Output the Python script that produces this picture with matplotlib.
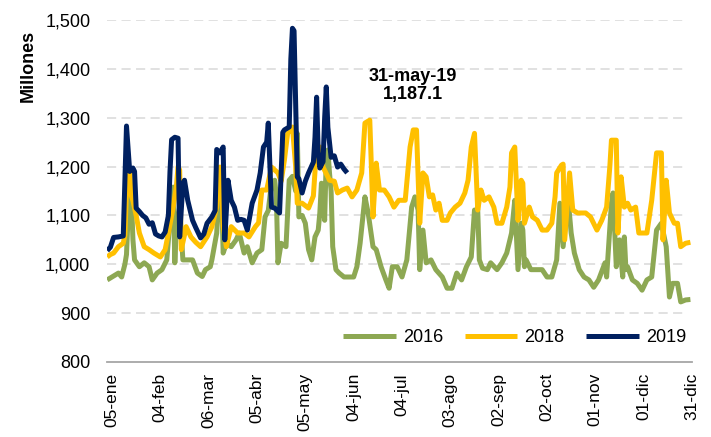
"""Daily series 2016 / 2018 / 2019 on a common day-of-year axis."""

from __future__ import annotations

import matplotlib

matplotlib.use("Agg")
import matplotlib.pyplot as plt

# --- data (day of year, millones) ------------------------------------------
days_2016 = [2, 5, 9, 11, 13, 14, 15, 16, 17, 18, 19, 22, 25, 28, 30, 33, 36, 39, 41, 43,
             44, 45, 47, 49, 52, 55, 58, 61, 63, 66, 67, 70, 72, 73, 74, 76, 79, 82, 84, 87,
             89, 92, 95, 98, 100, 102, 104, 106, 107, 108, 110, 113, 115, 117, 119, 120, 121,
             123, 125, 127, 129, 131, 133, 134, 135, 137, 138, 139, 140, 141, 142, 144, 146,
             149, 152, 155, 157, 159, 162, 164, 167, 169, 172, 175, 177, 179, 182, 185, 188,
             191, 193, 195, 196, 198, 200, 203, 206, 210, 213, 216, 219, 222, 225, 228, 230,
             232, 233, 235, 238, 240, 244, 247, 250, 253, 255, 257, 259, 260, 261, 262, 265,
             269, 272, 275, 278, 281, 283, 285, 288, 290, 292, 295, 298, 301, 304, 307, 311,
             312, 315, 316, 318, 320, 322, 323, 324, 325, 328, 331, 334, 337, 340, 343, 346,
             349, 351, 353, 356, 358, 361, 364]
vals_2016 = [968, 974, 982, 974, 1000, 1020, 1100, 1160, 1140, 1050, 1009, 995, 1003, 995, 968,
             982, 989, 1009, 1090, 1158, 1003, 1080, 1117, 1009, 1009, 1009, 982, 975, 989, 995,
             1009, 1064, 1187, 1150, 1023, 1043, 1036, 1050, 1064, 1023, 1036, 1003, 1023, 1030,
             1097, 1110, 1166, 1172, 1140, 1003, 1043, 1036, 1172, 1180, 1150, 1268, 1097, 1100,
             1084, 1030, 1009, 1056, 1070, 1105, 1166, 1090, 1220, 1234, 1187, 1150, 1036, 989,
             982, 974, 974, 974, 995, 1043, 1138, 1105, 1036, 1030, 995, 968, 951, 995, 995, 974,
             1009, 1117, 1138, 1111, 989, 1070, 1003, 1009, 989, 974, 951, 951, 982, 968, 995,
             1015, 1111, 1111, 1009, 992, 989, 1003, 989, 1003, 1023, 1064, 1131, 989, 1084, 1070,
             995, 1009, 989, 989, 989, 974, 974, 1009, 1125, 1036, 1138, 1064, 1023, 989, 974, 968,
             953, 968, 1003, 974, 1125, 1146, 995, 1050, 974, 1056, 989, 995, 968, 961, 947, 968,
             974, 1070, 1084, 1036, 933, 961, 961, 923, 927, 928]

days_2018 = [2, 4, 6, 9, 12, 13, 14, 15, 16, 17, 18, 20, 22, 25, 28, 31, 35, 38, 40, 43, 45,
             46, 47, 48, 50, 51, 54, 57, 60, 64, 67, 70, 72, 73, 74, 76, 79, 83, 87, 90, 94, 96,
             98, 101, 104, 108, 110, 112, 114, 117, 119, 120, 123, 127, 130, 132, 134, 136, 140,
             143, 145, 148, 151, 154, 157, 160, 162, 165, 166, 167, 169, 171, 174, 177, 180, 183,
             187, 190, 192, 194, 196, 198, 200, 202, 204, 206, 208, 210, 213, 215, 218, 221, 224,
             226, 228, 230, 232, 234, 236, 239, 242, 244, 247, 250, 252, 253, 255, 257, 259, 260,
             261, 264, 266, 269, 272, 275, 278, 280, 281, 284, 285, 286, 289, 291, 294, 299, 302,
             306, 309, 312, 314, 315, 318, 319, 321, 323, 325, 327, 330, 332, 337, 340, 343, 346,
             347, 349, 351, 354, 356, 358, 361, 364]
vals_2018 = [1015, 1020, 1023, 1036, 1043, 1060, 1150, 1185, 1190, 1140, 1130, 1100, 1064, 1036,
             1030, 1023, 1015, 1030, 1064, 1117, 1160, 1200, 1193, 1030, 1060, 1077, 1056, 1045,
             1036, 1056, 1077, 1117, 1199, 1180, 1077, 1036, 1077, 1064, 1064, 1056, 1077, 1085,
             1152, 1152, 1199, 1187, 1170, 1213, 1268, 1281, 1200, 1125, 1125, 1115, 1140, 1240,
             1240, 1199, 1172, 1170, 1146, 1152, 1156, 1138, 1152, 1187, 1289, 1295, 1200, 1097,
             1207, 1152, 1152, 1138, 1117, 1131, 1131, 1240, 1275, 1275, 1084, 1187, 1179, 1138,
             1142, 1111, 1125, 1090, 1090, 1105, 1117, 1125, 1146, 1172, 1240, 1268, 1111, 1152,
             1131, 1138, 1117, 1084, 1084, 1117, 1158, 1228, 1240, 1090, 1172, 1166, 1084, 1117,
             1097, 1090, 1070, 1070, 1084, 1138, 1187, 1203, 1205, 1050, 1187, 1111, 1105, 1105,
             1097, 1070, 1090, 1117, 1200, 1254, 1254, 1064, 1179, 1117, 1125, 1111, 1117, 1064,
             1064, 1131, 1228, 1228, 1050, 1172, 1105, 1084, 1084, 1036, 1043, 1045]

days_2019 = [2, 4, 6, 9, 12, 14, 16, 18, 19, 20, 22, 24, 26, 28, 30, 32, 34, 36, 38, 40, 41, 42,
             44, 46, 47, 49, 50, 52, 55, 57, 60, 62, 64, 67, 69, 70, 72, 74, 75, 77, 79, 81, 83,
             85, 87, 89, 92, 95, 97, 99, 101, 102, 104, 106, 109, 111, 112, 115, 116, 117, 118,
             120, 121, 123, 125, 127, 130, 131, 132, 133, 134, 136, 137, 138, 139, 141, 143, 145,
             147, 149, 151]
vals_2019 = [1028, 1035, 1055, 1056, 1058, 1283, 1190, 1197, 1190, 1115, 1108, 1100, 1095, 1082,
             1085, 1062, 1058, 1056, 1066, 1100, 1190, 1255, 1260, 1258, 1056, 1166, 1172, 1131,
             1090, 1075, 1054, 1062, 1084, 1097, 1110, 1235, 1228, 1240, 1050, 1172, 1131, 1117,
             1090, 1092, 1090, 1070, 1125, 1152, 1187, 1240, 1250, 1289, 1117, 1115, 1105, 1270,
             1275, 1281, 1420, 1483, 1478, 1179, 1175, 1146, 1170, 1187, 1209, 1260, 1342, 1230,
             1197, 1210, 1300, 1363, 1280, 1219, 1222, 1199, 1205, 1195, 1187.1]

last_label = "31-may-19"

tick_days = [5, 35, 65, 95, 125, 155, 185, 215, 245, 275, 305, 335, 365]
tick_labels = ["05-ene", "04-feb", "06-mar", "05-abr", "05-may", "04-jun", "04-jul",
               "03-ago", "02-sep", "02-oct", "01-nov", "01-dic", "31-dic"]
y_ticks = [800, 900, 1000, 1100, 1200, 1300, 1400, 1500]

GREEN = "#8DA853"
YELLOW = "#FFC000"
NAVY = "#002060"
GRID = "#D9D9D9"
AXIS = "#A6A6A6"

plt.rcParams["font.family"] = ["Liberation Sans", "DejaVu Sans"]


def main() -> None:
    fig = plt.figure(figsize=(7.11, 4.37), dpi=100)
    ax = fig.add_axes([107 / 711, 1 - 362 / 437, 585 / 711, 342 / 437])

    line_kw = dict(linewidth=3.6, solid_joinstyle="round", solid_capstyle="butt")
    ax.plot(days_2016, vals_2016, color=GREEN, label="2016", **line_kw)
    ax.plot(days_2018, vals_2018, color=YELLOW, label="2018", **line_kw)
    ax.plot(days_2019, vals_2019, color=NAVY, label="2019", **line_kw)

    ax.set_xlim(1.9, 364.7)
    ax.set_ylim(y_ticks[0], y_ticks[-1])

    for v in y_ticks[1:]:
        ax.axhline(v, xmin=0, xmax=0.99, color=GRID, linewidth=1.1,
                   linestyle=(0, (6, 3.5)), zorder=0)

    for side in ("left", "right", "top"):
        ax.spines[side].set_visible(False)
    ax.spines["bottom"].set_color(AXIS)
    ax.spines["bottom"].set_linewidth(1.3)

    ax.set_yticks(y_ticks)
    ax.set_yticklabels([f"{v:,}" for v in y_ticks])
    ax.set_xticks(tick_days)
    ax.set_xticklabels(tick_labels, rotation=90)
    ax.tick_params(axis="y", length=0, pad=12, labelsize=13)
    ax.tick_params(axis="x", length=0, pad=8, labelsize=12.5)

    fig.text(28 / 711, 1 - 66 / 437, "Millones", rotation=90, ha="center", va="center",
             fontsize=13, fontweight="bold")

    ax.annotate(f"{last_label}\n{vals_2019[-1]:,.1f}",
                xy=(days_2019[-1], vals_2019[-1]), xytext=(47, 63),
                textcoords="offset points", ha="center", va="center",
                fontsize=13, fontweight="bold", linespacing=1.1)

    ax.legend(loc="center right", bbox_to_anchor=(0.99, 0.072), ncol=3, frameon=False,
              fontsize=13, handlelength=2.9, handletextpad=0.4, columnspacing=1.2,
              borderpad=0, borderaxespad=0)

    fig.savefig("out.png", dpi=100)
    plt.close(fig)


if __name__ == "__main__":
    main()
